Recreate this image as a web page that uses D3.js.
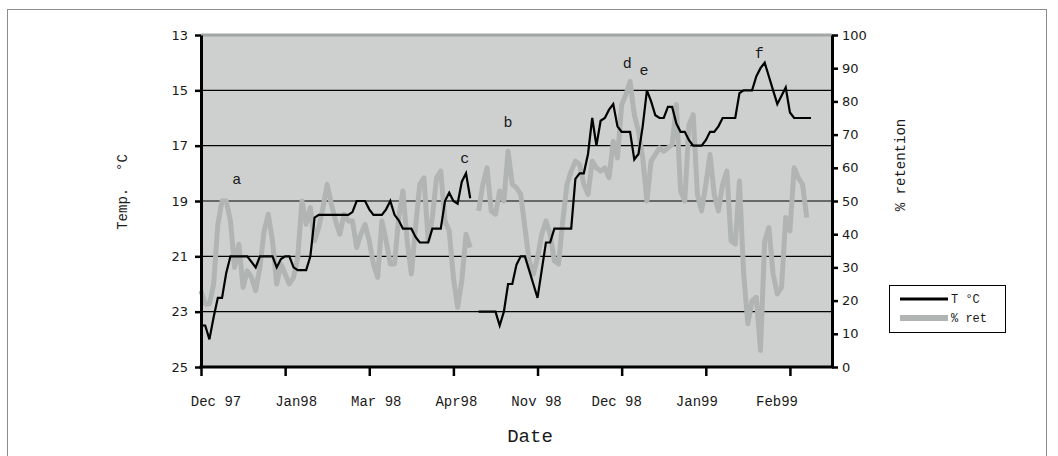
<!DOCTYPE html>
<html>
<head>
<meta charset="utf-8">
<script src="https://cdn.jsdelivr.net/npm/d3@7"></script>
<style>
  body { margin: 0; background: #fff; }
  svg { display: block; }
  .mono { font-family: "Liberation Mono", "Courier New", monospace; fill: #1a1a1a; }
  .num { font-family: "DejaVu Sans", Verdana, sans-serif; font-size: 13px; fill: #1a1a1a; }
</style>
</head>
<body>
<svg id="chart" width="1058" height="456"></svg>
<script>
// Date labels along the x axis
const dateLabels = ["Dec 97", "Jan98", "Mar 98", "Apr98", "Nov 98", "Dec 98", "Jan99", "Feb99"];

// Sample index of each tick mark on the x axis
const xTickIdx = [0, 20, 40, 60, 80, 100, 120, 140];

// Water temperature (°C), one value per sample; null = no reading
const tempC = [
  23.5, 23.5, 24.0, 23.2, 22.5, 22.5, 21.6, 21.0, 21.0, 21.0,
  21.0, 21.0, 21.2, 21.4, 21.0, 21.0, 21.0, 21.0, 21.4, 21.1,
  21.0, 21.0, 21.4, 21.5, 21.5, 21.5, 21.0, 19.6, 19.5, 19.5,
  19.5, 19.5, 19.5, 19.5, 19.5, 19.5, 19.4, 19.0, 19.0, 19.0,
  19.3, 19.5, 19.5, 19.5, 19.3, 19.0, 19.5, 19.7, 20.0, 20.0,
  20.0, 20.3, 20.5, 20.5, 20.5, 20.0, 20.0, 20.0, 19.0, 18.7,
  19.0, 19.1, 18.3, 18.0, 18.9, null, 23.0, 23.0, 23.0, 23.0,
  23.0, 23.5, 23.0, 22.0, 22.0, 21.3, 21.0, 21.0, 21.5, 22.0,
  22.5, 21.5, 20.5, 20.5, 20.0, 20.0, 20.0, 20.0, 20.0, 18.2,
  18.0, 18.0, 17.3, 16.0, 17.0, 16.1, 16.0, 15.7, 15.5, 16.3,
  16.5, 16.5, 16.5, 17.5, 17.3, 16.3, 15.0, 15.4, 15.9, 16.0,
  16.0, 15.6, 15.6, 16.2, 16.5, 16.5, 16.8, 17.0, 17.0, 17.0,
  16.8, 16.5, 16.5, 16.3, 16.0, 16.0, 16.0, 16.0, 15.1, 15.0,
  15.0, 15.0, 14.5, 14.2, 14.0, 14.5, 15.0, 15.5, 15.2, 14.9,
  15.8, 16.0, 16.0, 16.0, 16.0, 16.0
];

// Percent retention, one value per sample; null = no reading
const retention = [
  23, 19, 19, 25, 43, 50, 50, 44, 30, 37,
  24, 29, 27, 23, 30, 41, 46, 38, 25, 31,
  28, 25, 27, 33, 50, 43, 48, 38, 42, 48,
  55, 49, 44, 40, 46, 44, 44, 36, 40, 43,
  38, 31, 27, 44, 38, 31, 31, 45, 53, 38,
  28, 42, 55, 57, 38, 45, 57, 59, 44, 41,
  27, 18, 26, 40, 36, null, 47, 55, 60, 47,
  46, 53, 50, 65, 55, 54, 52, 42, 32, 28,
  33, 40, 44, 40, 32, 31, 44, 55, 59, 62,
  61, 55, 52, 62, 60, 59, 60, 57, 68, 63,
  79, 82, 86, 76, 71, 63, 50, 62, 64, 66,
  65, 66, 67, 79, 53, 50, 73, 76, 52, 47,
  55, 64, 52, 47, 55, 59, 38, 37, 56, 28,
  13, 20, 21, 5, 38, 42, 28, 22, 24, 45,
  41, 60, 57, 55, 45
];

// Axis tick values
const tempTicks = [13, 15, 17, 19, 21, 23, 25];
const retTicks = [0, 10, 20, 30, 40, 50, 60, 70, 80, 90, 100];

// Event letters: sample index and temperature at the letter's baseline
const eventLetters = ["a", "b", "c", "d", "e", "f"];
const eventIdx = [8.5, 73.0, 62.7, 101.3, 105.3, 132.7];
const eventTemp = [18.38, 16.32, 17.63, 14.2, 14.45, 13.84];

// Legend entries
const legendNames = ["T °C", "% ret"];

const plot = { left: 201, right: 832, top: 35, bottom: 367 };
const tempColor = "#000000";
const retColor = "#b0b5b3";

const svg = d3.select("#chart");

// outer chart frame
svg.append("rect")
  .attr("x", 7.5).attr("y", 9.5)
  .attr("width", 1039).attr("height", 480)
  .attr("fill", "none").attr("stroke", "#8c8c8c").attr("stroke-width", 1);

const x = d3.scaleLinear().domain([0, 150]).range([plot.left, plot.right]);
const yT = d3.scaleLinear().domain([13, 25]).range([plot.top, plot.bottom]);
const yR = d3.scaleLinear().domain([0, 100]).range([plot.bottom, plot.top]);

// plot background
svg.append("rect")
  .attr("x", plot.left).attr("y", plot.top)
  .attr("width", plot.right - plot.left).attr("height", plot.bottom - plot.top)
  .attr("fill", "#cdd0cf");

// horizontal gridlines
svg.append("g").selectAll("line")
  .data(tempTicks.filter(t => t > 13 && t < 25))
  .join("line")
  .attr("x1", plot.left).attr("x2", plot.right)
  .attr("y1", d => yT(d)).attr("y2", d => yT(d))
  .attr("stroke", "#000").attr("stroke-width", 1.1);

// % retention series
const retLine = d3.line()
  .defined(d => d != null)
  .x((d, i) => x(i))
  .y(d => yR(d));
svg.append("path")
  .datum(retention)
  .attr("d", retLine)
  .attr("fill", "none")
  .attr("stroke", retColor)
  .attr("stroke-width", 5)
  .attr("stroke-linejoin", "round");

// temperature series
const tempLine = d3.line()
  .defined(d => d != null)
  .x((d, i) => x(i))
  .y(d => yT(d));
svg.append("path")
  .datum(tempC)
  .attr("d", tempLine)
  .attr("fill", "none")
  .attr("stroke", tempColor)
  .attr("stroke-width", 2.2)
  .attr("stroke-linejoin", "miter");

// top edge of the plot area
svg.append("line")
  .attr("x1", plot.left).attr("x2", plot.right)
  .attr("y1", plot.top).attr("y2", plot.top)
  .attr("stroke", "#a2a7a5").attr("stroke-width", 3);

function styleAxis(g) {
  g.select(".domain").attr("stroke", "#000").attr("stroke-width", 3);
  g.selectAll(".tick line").attr("stroke", "#000").attr("stroke-width", 2.5);
  g.selectAll(".tick text").attr("class", "num").attr("font-size", null).attr("font-family", null);
}

// left temperature axis
const gL = svg.append("g")
  .attr("transform", `translate(${plot.left},0)`)
  .call(d3.axisLeft(yT).tickValues(tempTicks).tickSize(6).tickSizeOuter(0).tickPadding(7));
styleAxis(gL);

// right retention axis
const gR = svg.append("g")
  .attr("transform", `translate(${plot.right},0)`)
  .call(d3.axisRight(yR).tickValues(retTicks).tickSize(6).tickSizeOuter(0).tickPadding(4));
styleAxis(gR);

// bottom date axis (tick marks only)
const gB = svg.append("g")
  .attr("transform", `translate(0,${plot.bottom})`)
  .call(d3.axisBottom(x).tickValues(xTickIdx).tickSize(9).tickSizeOuter(0).tickFormat(() => ""));
styleAxis(gB);
gB.select(".domain").attr("d", `M${plot.left - 1.5},0H${plot.right + 1.5}`);

// date labels
const labelX = d3.scalePoint().domain(dateLabels).range([216, 777]);
svg.append("g").selectAll("text")
  .data(dateLabels)
  .join("text")
  .attr("class", "mono")
  .attr("x", d => labelX(d))
  .attr("y", 406)
  .attr("text-anchor", "middle")
  .attr("font-size", 14)
  .text(d => d);

// axis titles
svg.append("text").attr("class", "mono")
  .attr("x", 530).attr("y", 442)
  .attr("text-anchor", "middle").attr("font-size", 19)
  .text("Date");

svg.append("text").attr("class", "mono")
  .attr("transform", "translate(127,192) rotate(-90)")
  .attr("text-anchor", "middle").attr("font-size", 14)
  .text("Temp.\u00a0 °C");

svg.append("text").attr("class", "mono")
  .attr("transform", "translate(905,165) rotate(-90)")
  .attr("text-anchor", "middle").attr("font-size", 14)
  .text("% retention");

// event letters
svg.append("g").selectAll("text")
  .data(eventLetters)
  .join("text")
  .attr("class", "mono")
  .attr("x", (d, i) => x(eventIdx[i]))
  .attr("y", (d, i) => yT(eventTemp[i]))
  .attr("text-anchor", "middle")
  .attr("font-size", 15)
  .text(d => d);

// legend
const lg = svg.append("g").attr("transform", "translate(889,285)");
lg.append("rect")
  .attr("x", 0.5).attr("y", 0.5).attr("width", 116).attr("height", 47)
  .attr("fill", "#fff").attr("stroke", "#000").attr("stroke-width", 1);
const legendColors = [tempColor, retColor];
const legendWidths = [3, 6];
legendNames.forEach((name, i) => {
  const yy = 14 + i * 19;
  lg.append("line")
    .attr("x1", 11).attr("x2", 59).attr("y1", yy).attr("y2", yy)
    .attr("stroke", legendColors[i]).attr("stroke-width", legendWidths[i]);
  lg.append("text").attr("class", "mono")
    .attr("x", 62).attr("y", yy + 4)
    .attr("font-size", 12)
    .text(name);
});
</script>
</body>
</html>
